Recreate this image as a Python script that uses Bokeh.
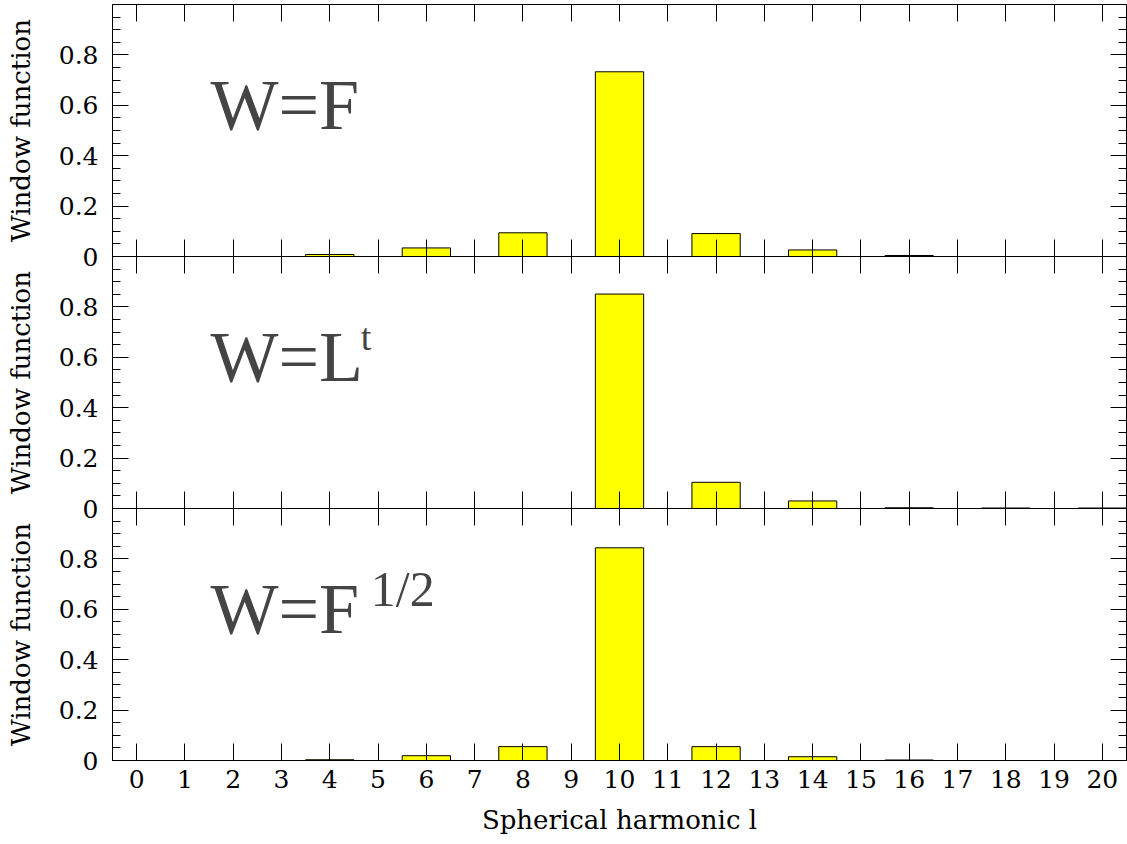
from bokeh.plotting import figure
from bokeh.models import (Range1d, LinearAxis, FixedTicker, CustomJSTickFormatter,
                          Label, ColumnDataSource)
from bokeh.embed import file_html
from bokeh.resources import INLINE

# ---- data -------------------------------------------------------------
l_values = [0, 2, 4, 6, 8, 10, 12, 14, 16, 18, 20]
w_F = [0.0, 0.0, 0.008, 0.034, 0.094, 0.733, 0.091, 0.026, 0.004, 0.0, 0.0]
w_Lt = [0.0, 0.0, 0.0, 0.0, 0.0, 0.851, 0.104, 0.030, 0.003, 0.002, 0.002]
w_F12 = [0.0, 0.0, 0.003, 0.019, 0.055, 0.844, 0.055, 0.015, 0.002, 0.0, 0.0]

x_ticks = list(range(0, 21))
y_major = [0, 0.2, 0.4, 0.6, 0.8]
y_minor = [0.05, 0.1, 0.15, 0.25, 0.3, 0.35, 0.45, 0.5, 0.55, 0.65, 0.7, 0.75,
           0.85, 0.9, 0.95]

panel_main = ["W=F", "W=L", "W=F"]
panel_sup = ["", "t", "1/2"]
series = [w_F, w_Lt, w_F12]

x_label = "Spherical harmonic l"
y_label = "Window function"

FONT = "DejaVu Serif"
LABEL_FONT = "Liberation Serif"

p = figure(width=1127, height=844,
           x_range=Range1d(-0.5, 20.5), y_range=Range1d(0, 3),
           output_backend="svg", toolbar_location=None,
           y_axis_location=None,
           min_border_left=112, min_border_right=1,
           min_border_top=4, min_border_bottom=84)
p.grid.visible = False
p.outline_line_color = "black"
p.outline_line_width = 1
p.background_fill_color = "white"
p.border_fill_color = "white"

# each panel gets its own y scale occupying one third of the frame
# (panel 1 on top, panel 3 at the bottom = the default range)
p.extra_y_ranges = {"p1": Range1d(-2, 1), "p2": Range1d(-1, 2)}
range_names = ["p1", "p2", "default"]
bases = (0, 1, 2)

# combined tick lists on the default (0..3) range
all_major = [b + v for b in bases for v in y_major]
all_minor = [b + v for b in bases for v in y_minor]
title_pos = [b + 0.5 for b in bases]

panel_fmt = CustomJSTickFormatter(code="""
    const v = Math.round((tick - Math.floor(tick + 1e-9)) * 10) / 10;
    return v == 0 ? "0" : v.toFixed(1);
""")


def style_x(ax, labels):
    ax.ticker = FixedTicker(ticks=x_ticks, minor_ticks=[])
    ax.major_tick_in = 17
    ax.major_tick_out = 0
    ax.minor_tick_in = 0
    ax.minor_tick_out = 0
    ax.major_tick_line_color = "black"
    ax.axis_line_color = "black"
    if labels:
        ax.major_label_text_font = FONT
        ax.major_label_text_font_size = "25px"
        ax.major_label_text_color = "black"
        ax.major_label_standoff = 9
    else:
        ax.major_label_text_color = None
        ax.major_label_standoff = 0


def style_y(ax, labels):
    ax.ticker = FixedTicker(ticks=all_major, minor_ticks=all_minor)
    ax.major_tick_in = 16
    ax.major_tick_out = 0
    ax.minor_tick_in = 8
    ax.minor_tick_out = 0
    ax.major_tick_line_color = "black"
    ax.minor_tick_line_color = "black"
    ax.axis_line_color = "black"
    if labels:
        ax.formatter = panel_fmt
        ax.major_label_text_font = FONT
        ax.major_label_text_font_size = "25px"
        ax.major_label_text_color = "black"
        ax.major_label_standoff = 14
    else:
        ax.major_label_text_color = None
        ax.major_label_standoff = 0


# bottom axis with labels (panel 3)
xb = p.xaxis[0]
style_x(xb, True)
xb.axis_label = x_label
xb.axis_label_text_font = FONT
xb.axis_label_text_font_size = "26px"
xb.axis_label_text_font_style = "normal"
xb.axis_label_text_color = "black"
xb.axis_label_standoff = 14

# left axis (tick labels for all three panels) and right axis (ticks only)
yl = LinearAxis()
style_y(yl, True)
p.add_layout(yl, "left")

yr = LinearAxis(fixed_location=20.5)
style_y(yr, False)
p.add_layout(yr, "right")

# outer left axis carrying one vertical "Window function" title per panel
ta = LinearAxis(ticker=FixedTicker(ticks=title_pos, minor_ticks=[]),
                formatter=CustomJSTickFormatter(args=dict(t=y_label),
                                                code="return t;"))
ta.axis_line_color = None
ta.major_tick_in = 0
ta.major_tick_out = 0
ta.minor_tick_in = 0
ta.minor_tick_out = 0
ta.major_label_orientation = "vertical"
ta.major_label_standoff = 20
ta.major_label_text_font = FONT
ta.major_label_text_font_size = "26px"
ta.major_label_text_color = "black"
p.add_layout(ta, "left")

for i, rn in enumerate(range_names):
    # top edge of the panel, ticks pointing down
    xt = LinearAxis(y_range_name=rn, fixed_location=1)
    style_x(xt, False)
    p.add_layout(xt, "above")

    # bottom edge of panels 1 and 2, ticks pointing up
    if i < 2:
        xbi = LinearAxis(y_range_name=rn, fixed_location=0)
        style_x(xbi, False)
        p.add_layout(xbi, "below")

    src = ColumnDataSource(dict(l=l_values, w=series[i]))
    p.vbar(x="l", top="w", bottom=0, width=1, source=src, y_range_name=rn,
           fill_color="#ffff00", line_color="black", line_width=1)

    p.add_layout(Label(x=1.53, y=0.6, y_range_name=rn, text=panel_main[i],
                       text_font=LABEL_FONT, text_font_size="72px",
                       text_color="#444444",
                       text_baseline="alphabetic", text_align="left"))
    if panel_sup[i]:
        is_t = panel_sup[i] == "t"
        p.add_layout(Label(x=4.64 if is_t else 4.85, y=0.68, y_range_name=rn,
                           text=panel_sup[i], text_font=LABEL_FONT,
                           text_font_size="38px" if is_t else "50px",
                           text_color="#444444",
                           text_baseline="alphabetic", text_align="left"))

with open("out.html", "w") as f:
    f.write(file_html(p, INLINE))
